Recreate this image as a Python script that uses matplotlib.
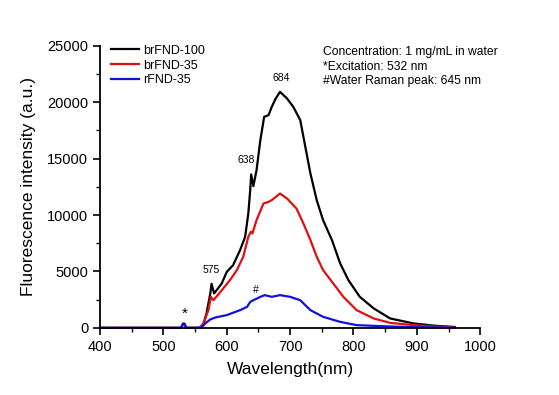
import matplotlib
matplotlib.use("Agg")
import matplotlib.pyplot as plt
from matplotlib.ticker import MultipleLocator

plt.rcParams['font.family'] = ['Liberation Sans', 'DejaVu Sans']

# spectra (nm, a.u.)
wl_black = [400, 450, 500, 528, 531, 533, 536, 555, 558, 563, 568, 574, 576, 580, 584, 592, 600, 610,
            621, 629, 634, 637, 638.5, 642, 647, 653, 659, 666, 671, 677, 684, 695, 705, 716,
            721, 726, 732, 742, 752, 766, 779, 792, 810, 832, 858, 895, 930, 960]
i_black = [0, 0, 0, 0, 350, 350, 0, 0, 50, 300, 1270, 3050, 3900, 3050, 3340, 3930, 4960, 5560,
           6890, 8070, 10140, 12210, 13600, 12560, 13980, 16640, 18700, 18860, 19590, 20300, 20920, 20340, 19590, 18410,
           16930, 15460, 13690, 11320, 9550, 7780, 5710, 4230, 2750, 1720, 830, 390, 180, 80]

wl_red = [400, 450, 500, 528, 531, 533, 536, 555, 558, 563, 571, 575, 579, 590, 605, 616, 626,
          634, 638, 640.5, 647, 658, 666, 671, 684, 695, 710, 721, 732, 742, 752, 768, 784,
          805, 832, 858, 900, 930, 960]
i_red = [0, 0, 0, 0, 350, 350, 0, 0, 40, 390, 1570, 2750, 2450, 3190, 4230, 5120, 6300,
         8070, 8510, 8370, 9550, 11030, 11170, 11320, 11910, 11470, 10580, 9250, 7780, 6300, 5120, 3940, 2750,
         1570, 830, 440, 220, 110, 50]

wl_blue = [400, 450, 500, 528, 531, 533, 536, 555, 560, 566, 574, 582, 600, 621, 632, 637, 642,
           653, 660, 671, 684, 700, 716, 732, 752, 779, 805, 858, 900, 960]
i_blue = [0, 0, 0, 0, 380, 380, 0, 0, 30, 390, 750, 920, 1130, 1570, 1860, 2300, 2450,
          2750, 2900, 2750, 2900, 2750, 2450, 1570, 980, 530, 240, 120, 60, 20]

labels = ['brFND-100', 'brFND-35', 'rFND-35']
colors = ['black', '#e01010', '#1010e0']

notes = ['Concentration: 1 mg/mL in water', '*Excitation: 532 nm', '#Water Raman peak: 645 nm']

fig = plt.figure(figsize=(5.59, 3.95), dpi=100)
ax = fig.add_axes([0.179, 0.170, 0.680, 0.714])

ax.plot(wl_black, i_black, color=colors[0], lw=1.6, label=labels[0], clip_on=False)
ax.plot(wl_red, i_red, color=colors[1], lw=1.6, label=labels[1], clip_on=False)
ax.plot(wl_blue, i_blue, color=colors[2], lw=1.6, label=labels[2], clip_on=False)

ax.set_xlim(400, 1000)
ax.set_ylim(0, 25000)
ax.xaxis.set_major_locator(MultipleLocator(100))
ax.xaxis.set_minor_locator(MultipleLocator(50))
ax.yaxis.set_major_locator(MultipleLocator(5000))
ax.yaxis.set_minor_locator(MultipleLocator(2500))
ax.tick_params(which='major', direction='out', length=5, width=1.2, labelsize=10.5)
ax.tick_params(which='minor', direction='out', length=3, width=1.0)
for s in ['top', 'right']:
    ax.spines[s].set_visible(False)
for s in ['left', 'bottom']:
    ax.spines[s].set_linewidth(1.3)

ax.set_xlabel('Wavelength(nm)', fontsize=12.5, labelpad=6)
ax.set_ylabel('Fluorescence intensity (a.u.)', fontsize=12.5, labelpad=8)

# peak marks
ax.text(575, 4700, '575', fontsize=7.5, ha='center', va='bottom')
ax.text(631, 14400, '638', fontsize=7.5, ha='center', va='bottom')
ax.text(686, 21700, '684', fontsize=7.5, ha='center', va='bottom')
ax.text(533, 600, '*', fontsize=11, ha='center', va='bottom')
ax.text(646, 2900, '#', fontsize=7.5, ha='center', va='bottom')

ax.legend(loc='upper left', bbox_to_anchor=(0.008, 1.03), frameon=False, fontsize=9,
          handlelength=2.3, handletextpad=0.3, labelspacing=0.22, borderaxespad=0.2)

ax.text(0.587, 1.0, '\n'.join(notes), transform=ax.transAxes, fontsize=8.7,
        ha='left', va='top', linespacing=1.3)

fig.savefig('out.png', dpi=100)
